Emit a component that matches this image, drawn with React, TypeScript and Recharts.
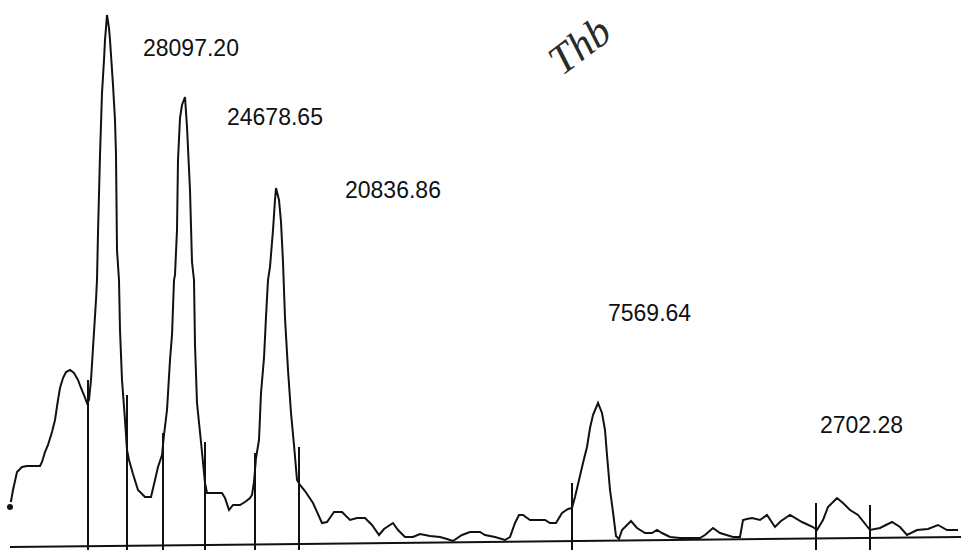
import { LineChart, Line, XAxis, YAxis, ReferenceLine, ReferenceDot } from "recharts";

// scan position along the lane and optical density
const position = [
  10, 13, 17, 22, 27, 40, 42, 45, 48, 52, 55, 58, 60, 63, 66, 70, 74, 78, 81, 84, 87, 89, 91, 93, 96, 97, 98,
  100, 102, 104, 105, 107, 109, 110, 112, 113, 115, 116, 117, 119, 120, 122, 125, 127, 129, 133, 138, 145, 151,
  155, 158, 162, 164, 167, 170, 172, 174, 175, 177, 178, 180, 182, 185, 187, 190, 192, 194, 195, 197, 201, 205,
  207, 222, 225, 229, 233, 240, 245, 250, 252, 254, 256, 259, 261, 264, 266, 268, 270, 273, 275, 276, 279, 281,
  283, 285, 288, 291, 294, 297, 300, 305, 313, 322, 327, 334, 342, 350, 357, 365, 372, 379, 384, 393, 398, 405,
  413, 420, 430, 440, 447, 453, 462, 470, 480, 485, 495, 505, 510, 515, 519, 523, 530, 545, 550, 556, 562, 568,
  572, 575, 579, 583, 587, 590, 593, 598, 602, 605, 607, 610, 613, 616, 619, 622, 631, 637, 645, 652, 657, 662,
  670, 680, 700, 705, 713, 720, 733, 740, 743, 747, 752, 760, 767, 775, 781, 790, 802, 813, 817, 823, 828, 837,
  843, 850, 858, 870, 880, 892, 900, 907, 917, 928, 938, 947, 958,
];
const density = [
  43, 60, 78, 83, 84, 84, 88, 98, 105, 118, 130, 150, 162, 172, 178, 180, 177, 170, 162, 155, 147, 150, 170, 202,
  250, 270, 317, 395, 457, 490, 510, 535, 522, 510, 480, 465, 430, 395, 300, 270, 220, 170, 130, 100, 90, 76, 60,
  53, 53, 70, 83, 95, 115, 140, 190, 215, 270, 275, 320, 390, 432, 445, 453, 423, 360, 288, 270, 205, 147, 108, 67,
  57, 57, 52, 40, 45, 45, 48, 52, 55, 68, 92, 110, 157, 192, 233, 270, 283, 320, 350, 362, 350, 328, 288, 232, 180,
  137, 105, 70, 65, 59, 47, 27, 28, 38, 38, 30, 32, 32, 25, 15, 21, 27, 20, 13, 13, 16, 14, 13, 11, 9, 15, 18, 18,
  15, 13, 10, 13, 27, 35, 35, 30, 30, 27, 27, 37, 41, 42, 53, 70, 87, 103, 122, 135, 147, 137, 120, 95, 60, 38,
  14, 11, 20, 29, 22, 17, 17, 20, 17, 13, 12, 12, 15, 22, 17, 13, 13, 30, 31, 32, 30, 35, 23, 29, 35, 28, 23, 20,
  30, 43, 52, 47, 40, 35, 20, 22, 28, 23, 15, 20, 21, 25, 20, 20,
];

// peak boundaries (position, height of the drop line)
const boundaryAt = [88, 127, 163, 205, 255, 299, 572, 816, 870];
const boundaryTop = [170, 155, 117, 108, 97, 103, 67, 47, 45];

// baseline drawn under the trace
const baselineFrom = { x: 10, y: 3 };
const baselineTo = { x: 961, y: 13 };

// peak areas and where they are printed
const areaLabels = ["28097.20", "24678.65", "20836.86", "7569.64", "2702.28"];
const labelX = [143, 227, 345, 608, 820];
const labelY = [502, 433, 360, 237, 125];

const data = position.map((x, i) => ({ x, od: density[i] }));

export default function App() {
  return (
    <div style={{ position: "absolute", left: 0, top: 0, width: 961, height: 550, background: "#fff", overflow: "hidden" }}>
      <LineChart width={961} height={550} data={data} margin={{ top: 0, right: 0, bottom: 0, left: 0 }}>
        <XAxis type="number" dataKey="x" domain={[0, 961]} hide />
        <YAxis type="number" domain={[0, 550]} hide />
        <ReferenceLine
          segment={[baselineFrom, baselineTo]}
          stroke="#111"
          strokeWidth={2}
          ifOverflow="visible"
        />
        {boundaryAt.map((x, i) => (
          <ReferenceLine
            key={x}
            segment={[
              { x, y: 0 },
              { x, y: boundaryTop[i] },
            ]}
            stroke="#111"
            strokeWidth={2}
            ifOverflow="visible"
          />
        ))}
        <Line
          type="linear"
          dataKey="od"
          stroke="#111"
          strokeWidth={2}
          dot={false}
          isAnimationActive={false}
        />
        {areaLabels.map((t, i) => (
          <ReferenceDot
            key={t}
            x={labelX[i]}
            y={labelY[i]}
            r={0}
            stroke="none"
            fill="none"
            ifOverflow="visible"
            label={{
              value: t,
              position: "right",
              offset: 0,
              fontSize: 23,
              fontFamily: "Liberation Sans, Arial, sans-serif",
              fill: "#111",
            }}
          />
        ))}
      </LineChart>
      <div
        style={{
          position: "absolute",
          left: 566,
          top: 40,
          transform: "rotate(-37deg)",
          transformOrigin: "left bottom",
          fontFamily: "Liberation Serif, serif",
          fontStyle: "italic",
          fontSize: 42,
          color: "#2a2a2a",
          lineHeight: 1,
        }}
      >
        Thb
      </div>
    </div>
  );
}
